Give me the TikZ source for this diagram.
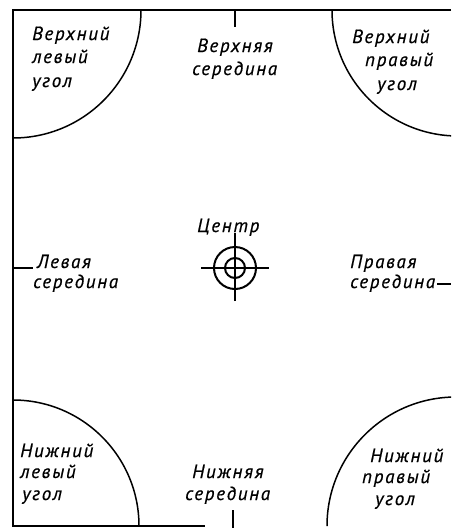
\documentclass[tikz,border=0pt]{standalone}
\usepackage{fontspec}
\setmainfont{PT Sans}[LetterSpace=9,FakeBold=0.6]
\begin{document}
\begin{tikzpicture}[x=1pt,y=-1pt,
  lbl/.style={anchor=base west,inner sep=0pt,font=\fontsize{19}{19}\selectfont\itshape},
  frame/.style={line width=1.5pt},
  tgt/.style={line width=2pt}]
\useasboundingbox (0,0) rectangle (451,528);
\begin{scope}
\clip (0,0) rectangle (451,528);
% frame
\draw[frame] (451,10) -- (13,10) -- (13,526) -- (205,526);
% corner arcs
\draw[frame] (141,10) arc[start angle=0,end angle=90,radius=128];
\draw[frame] (332,10) arc[start angle=180,end angle=90,radius=126];
\draw[frame] (13,400) arc[start angle=-90,end angle=0,radius=126];
\draw[frame] (327,526) arc[start angle=180,end angle=270,radius=129];
% ticks
\coordinate (tt1) at (235,10); \coordinate (tt2) at (235,27);
\coordinate (bt1) at (233,510); \coordinate (bt2) at (233,528);
\coordinate (lt1) at (13,268); \coordinate (lt2) at (33,268);
\coordinate (rt1) at (437,284); \coordinate (rt2) at (451,284);
\draw[frame] (tt1) -- (tt2);
\draw[frame] (bt1) -- (bt2);
\draw[frame] (lt1) -- (lt2);
\draw[frame] (rt1) -- (rt2);
\end{scope}
% target
\coordinate (c) at (235,268);
\draw[tgt] (c) circle[radius=21];
\draw[tgt] (c) circle[radius=10];
\draw[tgt] ([xshift=-34pt]c) -- ([xshift=34pt]c);
\draw[tgt] ([yshift=-33pt]c) -- ([yshift=35pt]c);
% labels
\node[lbl] (tl1) at (32,40) {Верхний};
\node[lbl] (tl2) at (32,63) {левый};
\node[lbl] (tl3) at (32,87) {угол};
\node[lbl] (tm1) at (197,52) {Верхняя};
\node[lbl] (tm2) at (192,75) {середина};
\node[lbl] (tr1) at (352,43) {Верхний};
\node[lbl] (tr2) at (365,66) {правый};
\node[lbl] (tr3) at (377,90) {угол};
\node[lbl] (cc) at (197,232) {Центр};
\node[lbl] (ml1) at (37,268) {Левая};
\node[lbl] (ml2) at (33,288) {середина};
\node[lbl] (mr1) at (350,268) {Правая};
\node[lbl] (mr2) at (350,288) {середина};
\node[lbl] (bl1) at (20,457) {Нижний};
\node[lbl] (bl2) at (20,478) {левый};
\node[lbl] (bl3) at (22,500) {угол};
\node[lbl] (bm1) at (192,478) {Нижняя};
\node[lbl] (bm2) at (185,500) {середина};
\node[lbl] (br1) at (370,462) {Нижний};
\node[lbl] (br2) at (362,483) {правый};
\node[lbl] (br3) at (375,505) {угол};
\end{tikzpicture}
\end{document}
